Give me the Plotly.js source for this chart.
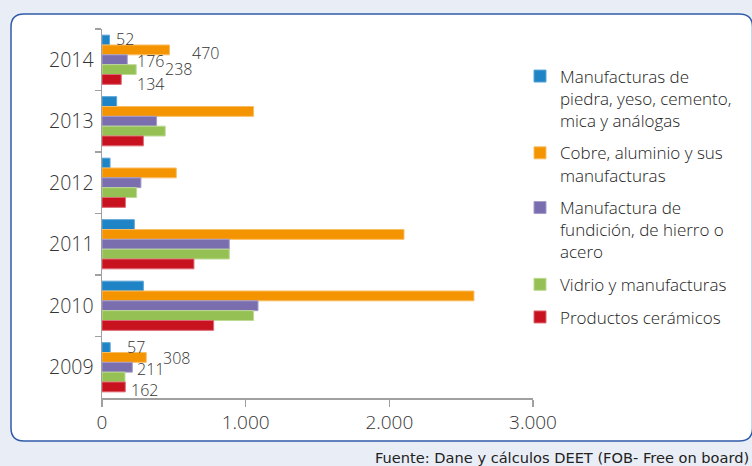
<!DOCTYPE html>
<html>
<head>
<meta charset="utf-8">
<script src="https://cdn.plot.ly/plotly-3.0.1.min.js"></script>
<style>html,body{margin:0;padding:0;background:#E9EDF6;}#chart{width:752px;height:466px;}</style>
</head>
<body>
<div id="chart"></div>
<script>
// ---- data ----
const years = ['2014', '2013', '2012', '2011', '2010', '2009'];
const seriesNames = [
  'Manufacturas de<br>piedra, yeso, cemento,<br>mica y análogas',
  'Cobre, aluminio y sus<br>manufacturas',
  'Manufactura de<br>fundición, de hierro o<br>acero',
  'Vidrio y manufacturas',
  'Productos cerámicos'
];
const piedra = [52, 102, 56, 225, 288, 57];
const cobre = [470, 1055, 517, 2102, 2589, 308];
const hierro = [176, 380, 271, 886, 1086, 211];
const vidrio = [238, 440, 241, 886, 1055, 160];
const ceramicos = [134, 288, 163, 640, 777, 162];
const xTickVals = [0, 1000, 2000, 3000];
const xTickText = ['0', '1.000', '2.000', '3.000'];
// which series carry a value label, per year
const labelled = { '2014': [0, 1, 2, 3, 4], '2009': [0, 1, 2, 4] };
const sourceText = 'Fuente: Dane y cálculos DEET (FOB- Free on board)';

// ---- styles ----
const colors = ['#1E84C6', '#F39400', '#7A6EAE', '#95C154', '#C8121F'];
const edge = ['#5DA6D8', '#F8BE66', '#A59DCB', '#BCDA92', '#DC6A72'];
const labelShift = {
  '2014': [[8, 1], [23, -3], [11, -1], [30, 0.5], [17, -5]],
  '2009': [[18, 0.5], [18, -1], [6, -2], null, [7, -3.5]]
};
const series = [piedra, cobre, hierro, vidrio, ceramicos];

const M = { l: 102, r: 219, t: 29, b: 68 };
const W = 752, H = 466;
const pw = W - M.l - M.r, ph = H - M.t - M.b;
const px = x => (x - M.l) / pw;
const py = y => (H - M.b - y) / ph;

const bargap = 0.2;
const barW = (1 - bargap) / series.length;
const FONT = 'Open Sans, sans-serif';

const traces = series.map((vals, i) => ({
  type: 'bar',
  orientation: 'h',
  name: seriesNames[i],
  legendgroup: 'g' + i,
  y: years,
  x: vals,
  marker: { color: colors[i], line: { color: edge[i], width: 1 } },
  hoverinfo: 'x+y'
}));

const annotations = [];
Object.keys(labelled).forEach(yr => {
  const idx = years.indexOf(yr);
  labelled[yr].forEach(si => {
    const sh = labelShift[yr][si] || [10, 0];
    annotations.push({
      x: series[si][idx], y: idx + (si - (series.length - 1) / 2) * barW,
      xref: 'x', yref: 'y', xanchor: 'left', yanchor: 'middle',
      xshift: sh[0] - 2, yshift: sh[1], borderpad: 0,
      text: String(series[si][idx]), showarrow: false,
      font: { family: FONT, size: 16, color: '#333', weight: 300 }
    });
  });
});
annotations.push({
  xref: 'paper', yref: 'paper', x: px(751), y: py(457),
  xanchor: 'right', yanchor: 'middle', showarrow: false,
  text: sourceText,
  font: { family: 'DejaVu Sans, sans-serif', size: 14.6, color: '#222' }
});

// rounded frame
const L = 11, T = 14, R = 752.5, B = 441, rad = 13;
const frame = `M ${px(L)} ${py(T + rad)} Q ${px(L)} ${py(T)} ${px(L + rad)} ${py(T)} ` +
  `L ${px(R - rad)} ${py(T)} Q ${px(R)} ${py(T)} ${px(R)} ${py(T + rad)} ` +
  `L ${px(R)} ${py(B - rad)} Q ${px(R)} ${py(B)} ${px(R - rad)} ${py(B)} ` +
  `L ${px(L + rad)} ${py(B)} Q ${px(L)} ${py(B)} ${px(L)} ${py(B - rad)} Z`;

const layout = {
  width: W, height: H,
  margin: M,
  paper_bgcolor: '#E9EDF6',
  plot_bgcolor: 'rgba(0,0,0,0)',
  barmode: 'group',
  bargap: bargap,
  bargroupgap: 0,
  font: { family: FONT, color: '#333' },
  separators: ',.',
  xaxis: {
    range: [0, 3000],
    tickvals: xTickVals, ticktext: xTickText,
    showgrid: false, zeroline: false,
    showline: true, linecolor: '#A0A0A0', linewidth: 1.5,
    ticks: 'outside', ticklen: 7, tickwidth: 1.5, tickcolor: '#A0A0A0',
    tickfont: { family: FONT, size: 19, color: '#333', weight: 300 },
    fixedrange: true
  },
  yaxis: {
    type: 'category',
    categoryorder: 'array', categoryarray: years,
    autorange: 'reversed',
    tickson: 'boundaries',
    showgrid: false, zeroline: false,
    showline: true, linecolor: '#A0A0A0', linewidth: 1.5,
    ticks: 'outside', ticklen: 6, tickwidth: 1.5, tickcolor: '#A0A0A0',
    ticklabelstandoff: 3,
    tickfont: { family: FONT, size: 19.5, color: '#333', weight: 300 },
    fixedrange: true
  },
  showlegend: true,
  legend: {
    x: px(520), y: py(58.5), xanchor: 'left', yanchor: 'top',
    traceorder: 'grouped', tracegroupgap: 7.5,
    valign: 'top',
    bgcolor: 'rgba(0,0,0,0)',
    font: { family: FONT, size: 17, color: '#222', weight: 300 }
  },
  shapes: [{
    type: 'path', xref: 'paper', yref: 'paper', path: frame,
    fillcolor: '#FFFFFF', line: { color: '#2F5BA8', width: 1.5 }, layer: 'below'
  }],
  annotations: annotations
};

Plotly.newPlot('chart', traces, layout, { displayModeBar: false, staticPlot: true });
</script>
</body>
</html>
